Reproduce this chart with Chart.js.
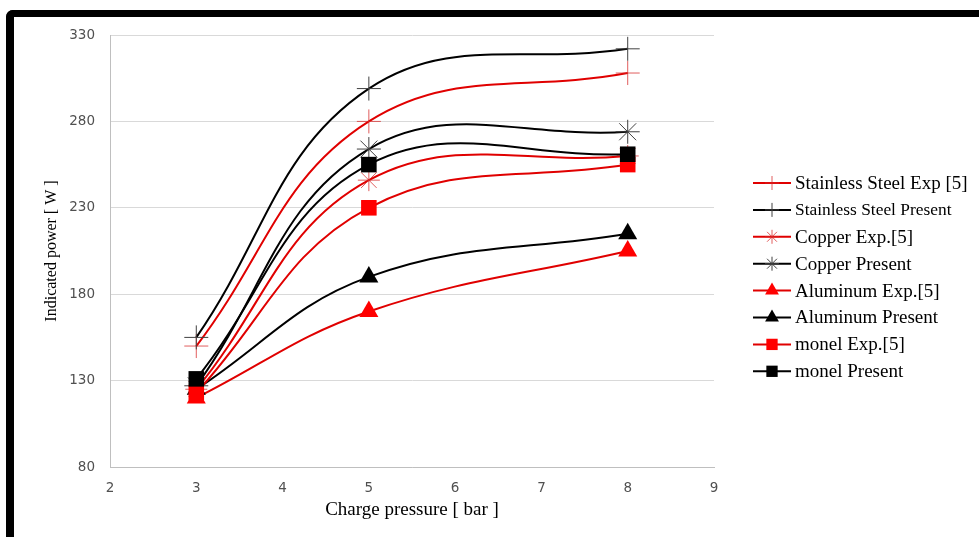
<!DOCTYPE html>
<html>
<head>
<meta charset="utf-8">
<script src="https://cdn.jsdelivr.net/npm/chart.js@4"></script>
<style>
    html, body { margin: 0; padding: 0; background: #fff; }
    #wrap { position: relative; width: 979px; height: 537px; overflow: hidden; }
    #frame {
        position: absolute; left: 6px; top: 10px; width: 1100px; height: 700px;
        border-top: 7px solid #000; border-left: 8px solid #000;
        border-top-left-radius: 7px; box-sizing: border-box;
    }
    canvas { position: absolute; left: 0; top: 0; }
</style>
</head>
<body>
<div id="wrap">
    <div id="frame"></div>
    <canvas id="powerChart" width="979" height="537"></canvas>
</div>
<script>
// Charge pressure (bar) and indicated power (W)
const pressures = [3, 5, 8];
const xTicks = [2, 3, 4, 5, 6, 7, 8, 9];
const yTicks = [80, 130, 180, 230, 280, 330];

const steelExp = [150, 280, 308];
const steelPresent = [155, 299, 322];
const copperExp = [125, 246, 260];
const copperPresent = [127, 264, 274];
const aluminumExp = [120, 170, 205];
const aluminumPresent = [125, 190, 215];
const monelExp = [123, 230, 255];
const monelPresent = [131, 255, 261];

const RED = '#e00000';
const BLACK = '#000000';

function series(label, values, color, marker, markerColor, radius, filled, legendFont) {
    return {
        label: label,
        data: pressures.map((p, i) => ({ x: p, y: values[i] })),
        borderColor: color,
        borderWidth: 2,
        tension: 0.4,
        fill: false,
        pointStyle: marker,
        pointRadius: radius,
        pointHoverRadius: radius,
        pointBorderWidth: filled ? 0 : 1,
        pointBorderColor: markerColor,
        pointBackgroundColor: filled ? markerColor : 'transparent',
        legendFont: legendFont || '19px "Liberation Serif"'
    };
}

const datasets = [
    series('Stainless Steel Exp [5]', steelExp, RED, 'cross', 'rgba(215,40,40,0.75)', 12, false),
    series('Stainless Steel Present', steelPresent, BLACK, 'cross', '#404040', 12, false, '17.4px "Liberation Serif"'),
    series('Copper Exp.[5]', copperExp, RED, 'star', 'rgba(215,40,40,0.75)', 11, false),
    series('Copper Present', copperPresent, BLACK, 'star', '#404040', 12, false),
    series('Aluminum Exp.[5]', aluminumExp, RED, 'triangle', '#ff0000', 11, true),
    series('Aluminum Present', aluminumPresent, BLACK, 'triangle', '#000000', 11, true),
    series('monel Exp.[5]', monelExp, RED, 'rect', '#ff0000', 11, true),
    series('monel Present', monelPresent, BLACK, 'rect', '#000000', 11, true)
];
// Excel paints later series on top
datasets.forEach((d, i) => { d.order = datasets.length - i; });

// Legend on the right: line with marker, then label
const sideLegend = {
    id: 'sideLegend',
    afterDraw(chart) {
        const ctx = chart.ctx;
        const x0 = 753, x1 = 791, textX = 795;
        let y = 183;
        chart.data.datasets.forEach(ds => {
            ctx.save();
            ctx.strokeStyle = ds.borderColor;
            ctx.lineWidth = 2;
            ctx.beginPath();
            ctx.moveTo(x0, y);
            ctx.lineTo(x1, y);
            ctx.stroke();
            ctx.strokeStyle = ds.pointBorderColor;
            ctx.fillStyle = ds.pointBackgroundColor;
            ctx.lineWidth = 1;
            const r = ds.pointStyle === 'rect' ? 8 : (ds.pointStyle === 'triangle' ? 8 : 7);
            Chart.helpers.drawPoint(ctx, { pointStyle: ds.pointStyle, radius: r, borderWidth: ds.pointBorderWidth, rotation: 0 }, (x0 + x1) / 2, y);
            ctx.fillStyle = '#000';
            ctx.font = ds.legendFont;
            ctx.textBaseline = 'middle';
            ctx.textAlign = 'left';
            ctx.fillText(ds.label, textX, y + 1);
            ctx.restore();
            y += 26.9;
        });
    }
};

const ctx = document.getElementById('powerChart').getContext('2d');
new Chart(ctx, {
    type: 'line',
    data: { datasets: datasets },
    options: {
        responsive: false,
        animation: false,
        devicePixelRatio: 1,
        layout: { padding: { left: 38, right: 265, top: 35, bottom: 12 } },
        plugins: {
            legend: { display: false },
            tooltip: { enabled: false }
        },
        scales: {
            x: {
                type: 'linear',
                min: xTicks[0],
                max: xTicks[xTicks.length - 1],
                afterBuildTicks: s => { s.ticks = xTicks.map(v => ({ value: v })); },
                afterFit: s => { s.height = 58; },
                grid: { display: false, drawTicks: false },
                border: { display: true, color: '#bfbfbf', width: 1 },
                ticks: { padding: 13, color: '#505050', font: { family: 'DejaVu Sans', size: 13.5 } },
                title: {
                    display: true,
                    text: 'Charge pressure [ bar ]',
                    color: '#000',
                    font: { family: 'Liberation Serif', size: 19 },
                    padding: { top: 4, bottom: 4 }
                }
            },
            y: {
                type: 'linear',
                min: yTicks[0],
                max: yTicks[yTicks.length - 1],
                afterBuildTicks: s => { s.ticks = yTicks.map(v => ({ value: v })); },
                afterFit: s => { s.width = 72; },
                grid: { color: '#d9d9d9', lineWidth: 1, drawTicks: false },
                border: { display: true, color: '#bfbfbf', width: 1 },
                ticks: { padding: 15, color: '#505050', font: { family: 'DejaVu Sans', size: 13.5 } },
                title: {
                    display: true,
                    text: 'Indicated power [ W ]',
                    color: '#000',
                    font: { family: 'Liberation Serif', size: 16 },
                    padding: { top: 4, bottom: 4 }
                }
            }
        }
    },
    plugins: [sideLegend]
});
</script>
</body>
</html>
